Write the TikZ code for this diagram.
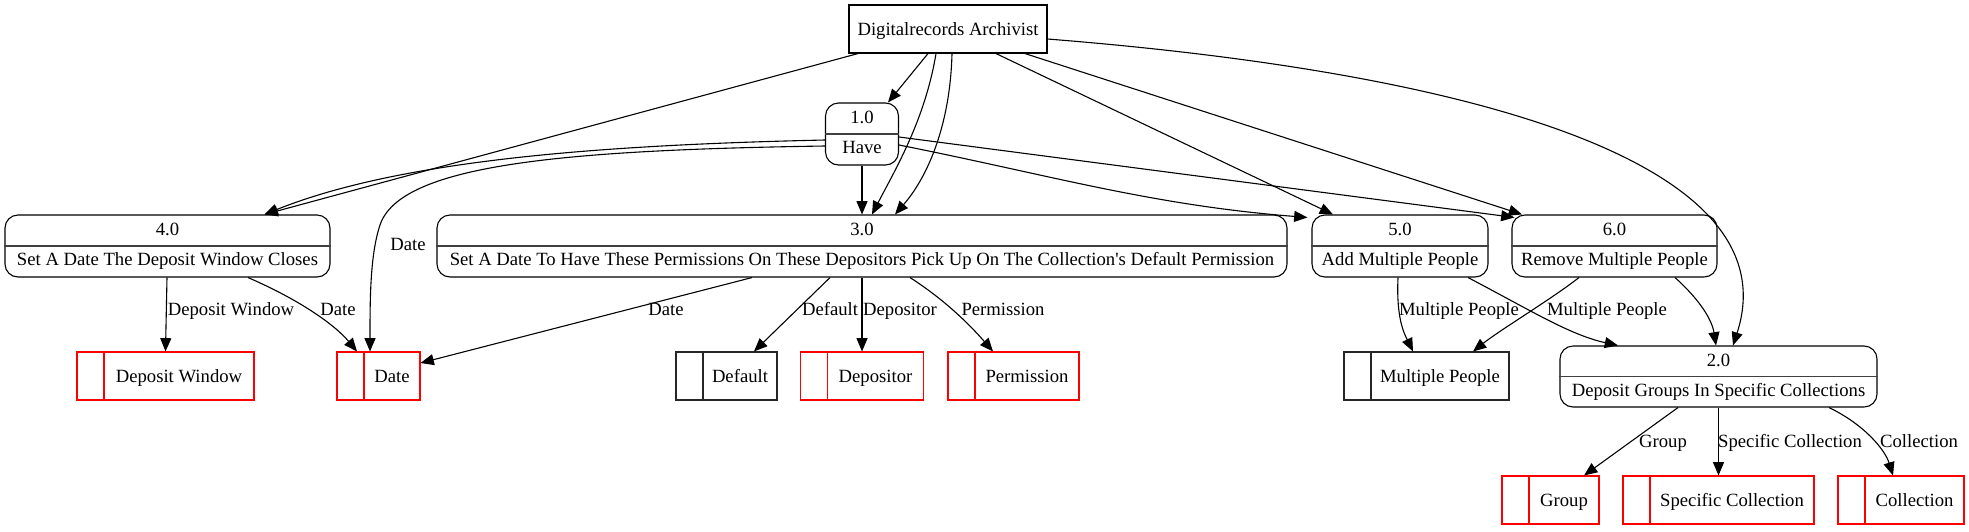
\documentclass[tikz,border=0pt]{standalone}
\usepackage{fontspec}
\setmainfont{Liberation Serif}
\usetikzlibrary{arrows.meta}
\tikzset{
  proc/.style={draw=black, rounded corners=13pt, inner sep=0pt, minimum height=62pt},
  ext/.style={draw=black, inner sep=0pt, minimum height=48pt},
  store/.style={draw=#1, inner sep=0pt, minimum height=48pt,
    path picture={\draw[#1, line width=1.1pt] ([xshift=27pt]path picture bounding box.north west) -- ([xshift=27pt]path picture bounding box.south west);}},
  divider/.style={draw=black!75, line width=1.2pt},
  txt/.style={anchor=base, inner sep=0pt},
  lab/.style={anchor=base, inner sep=0pt},
  flow/.style={-{Triangle[length=13.3pt,width=11pt]}}
}
\begin{document}
\begin{tikzpicture}[x=1pt, y=-1pt, line width=1.1pt,
  every node/.append style={font=\fontsize{18.67pt}{22pt}\selectfont}]
\fill[white] (0,0) rectangle (1969,531);
\useasboundingbox (0,0) rectangle (1969,531);

% external entity
\node[ext, minimum width=198pt] (arch) at (948,29) {};
\node[txt] (archt) at (948,35) {Digitalrecords Archivist};

% processes
\node[proc, minimum width=73pt] (p1) at (862,134) {};
\draw[divider] (p1.west) -- (p1.east);
\node[txt] (p1a) at (862,123.5) {1.0};
\node[txt] (p1b) at (862,153.5) {Have};

\node[proc, minimum width=850pt] (p3) at (862,246) {};
\draw[divider] (p3.west) -- (p3.east);
\node[txt] (p3a) at (862,235.5) {3.0};
\node[txt] (p3b) at (862,265.5) {Set A Date To Have These Permissions On These Depositors Pick Up On The Collection\textquotesingle s Default Permission};

\node[proc, minimum width=325pt] (p4) at (167.5,246) {};
\draw[divider] (p4.west) -- (p4.east);
\node[txt] (p4a) at (167.5,235.5) {4.0};
\node[txt] (p4b) at (167.5,265.5) {Set A Date The Deposit Window Closes};

\node[proc, minimum width=176pt] (p5) at (1400,246) {};
\draw[divider] (p5.west) -- (p5.east);
\node[txt] (p5a) at (1400,235.5) {5.0};
\node[txt] (p5b) at (1400,265.5) {Add Multiple People};

\node[proc, minimum width=205pt] (p6) at (1614.5,246) {};
\draw[divider] (p6.west) -- (p6.east);
\node[txt] (p6a) at (1614.5,235.5) {6.0};
\node[txt] (p6b) at (1614.5,265.5) {Remove Multiple People};

\node[proc, minimum width=317pt, minimum height=61pt] (p2) at (1718.5,376.5) {};
\draw[divider] (p2.west) -- (p2.east);
\node[txt] (p2a) at (1718.5,366) {2.0};
\node[txt] (p2b) at (1718.5,396) {Deposit Groups In Specific Collections};

% data stores
\node[store=red, minimum width=177pt] (sDW) at (165.5,376) {};
\node[txt] (sDWt) at (179,382) {Deposit Window};
\node[store=red, minimum width=83pt] (sDate) at (378.5,376) {};
\node[txt] (sDatet) at (392,382) {Date};
\node[store=black!85, minimum width=101pt] (sDef) at (726.5,376) {};
\node[txt] (sDeft) at (740,382) {Default};
\node[store=red, minimum width=123pt] (sDep) at (862,376) {};
\node[txt] (sDept) at (875.5,382) {Depositor};
\node[store=red, minimum width=131pt] (sPerm) at (1013.5,376) {};
\node[txt] (sPermt) at (1027,382) {Permission};
\node[store=black!85, minimum width=165pt] (sMP) at (1426.5,376) {};
\node[txt] (sMPt) at (1440,382) {Multiple People};
\node[store=red, minimum width=97pt] (sGroup) at (1550.5,500) {};
\node[txt] (sGroupt) at (1564,506) {Group};
\node[store=red, minimum width=191pt] (sSC) at (1718.5,500) {};
\node[txt] (sSCt) at (1732,506) {Specific Collection};
\node[store=red, minimum width=126pt] (sCol) at (1901,500) {};
\node[txt] (sColt) at (1914.5,506) {Collection};

% flows from archivist
\draw[flow] ([xshift=-90pt]arch.south) -- ([xshift=97pt]p4.north);
\draw[flow] ([xshift=-20pt]arch.south) -- ([xshift=26pt]p1.north);
\draw[flow] ([xshift=-12pt]arch.south) .. controls (925,120) and (895,170) .. ([xshift=10pt]p3.north);
\draw[flow] ([xshift=4pt]arch.south) .. controls (950,130) and (925,180) .. ([xshift=33pt]p3.north);
\draw[flow] ([xshift=48pt]arch.south) -- ([xshift=-67pt]p5.north);
\draw[flow] ([xshift=77pt]arch.south) -- ([xshift=-92.5pt]p6.north);
\draw[flow] ([yshift=-10pt]arch.east) .. controls (1500,75) and (1790,170) .. ([xshift=14.5pt]p2.north);

% flows from 1.0
\draw[flow] (p1.south) -- (p3.north);
\draw[flow] ([yshift=-6pt]p1.west) .. controls (600,145) and (400,160) .. ([xshift=97pt]p4.north);
\draw[flow] ([yshift=-12pt]p1.west) .. controls (560,150) and (400,165) .. (380,225) .. controls (370,255) and (370,300) .. ([xshift=-8.5pt]sDate.north);
\node[lab] (l1) at (408,250) {Date};
\draw[flow] ([yshift=-11pt]p1.east) .. controls (1050,175) and (1150,205) .. ([xshift=-4pt,yshift=-3pt]p5.north west);
\draw[flow] ([yshift=-3pt]p1.east) -- ([xshift=3pt,yshift=-3pt]p6.north west);

% flows from 4.0
\draw[flow] ([xshift=-0.5pt]p4.south) -- (sDW.north);
\node[lab] (l2) at (231,315) {Deposit Window};
\draw[flow] ([xshift=80.5pt]p4.south) .. controls (300,300) and (335,325) .. ([xshift=-21.5pt]sDate.north);
\node[lab] (l3) at (338,315) {Date};

% flows from 3.0
\draw[flow] ([xshift=-110pt]p3.south) -- ([yshift=13pt]sDate.east);
\node[lab] (l4) at (666,315) {Date};
\draw[flow] ([xshift=-32pt]p3.south) -- ([xshift=27.5pt]sDef.north);
\node[lab] (l5) at (830,315) {Default};
\draw[flow] (p3.south) -- (sDep.north);
\node[lab] (l6) at (900,315) {Depositor};
\draw[flow] ([xshift=48pt]p3.south) .. controls (945,300) and (970,325) .. ([xshift=-20.5pt]sPerm.north);
\node[lab] (l7) at (1003,315) {Permission};

% flows from 5.0 and 6.0
\draw[flow] ([xshift=-2pt]p5.south) .. controls (1396,320) and (1405,335) .. ([xshift=-13.5pt]sMP.north);
\node[lab] (l8) at (1459,315) {Multiple People};
\draw[flow] ([xshift=68pt]p5.south) .. controls (1530,310) and (1570,335) .. ([xshift=-100.5pt]p2.north);
\draw[flow] ([xshift=-35.5pt]p6.south) .. controls (1550,300) and (1500,330) .. ([xshift=46.5pt]sMP.north);
\node[lab] (l9) at (1607,315) {Multiple People};
\draw[flow] ([xshift=60.5pt]p6.south) .. controls (1700,300) and (1712,320) .. ([xshift=-2.5pt]p2.north);

% flows from 2.0
\draw[flow] ([xshift=-40.5pt]p2.south) -- ([xshift=33.5pt]sGroup.north);
\node[lab] (l10) at (1663,447) {Group};
\draw[flow] (p2.south) -- (sSC.north);
\node[lab] (l11) at (1790,447) {Specific Collection};
\draw[flow] ([xshift=110.5pt]p2.south) .. controls (1865,425) and (1885,450) .. ([xshift=-8pt]sCol.north);
\node[lab] (l12) at (1919,447) {Collection};
\end{tikzpicture}
\end{document}
